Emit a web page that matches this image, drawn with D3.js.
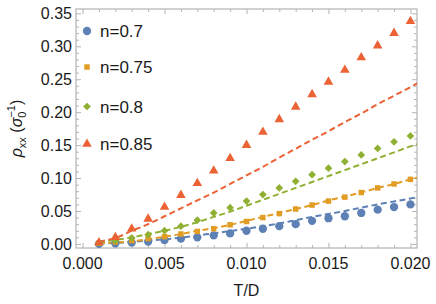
<!DOCTYPE html>
<html>
<head>
<meta charset="utf-8">
<script src="https://cdn.jsdelivr.net/npm/d3@7"></script>
<style>
    body { margin: 0; background: #fff; }
    text { font-family: "Liberation Sans", Arial, sans-serif; fill: #1a1a1a; }
</style>
</head>
<body>
<svg id="chart" width="436" height="304"></svg>
<script>
(function () {
    'use strict';

    // temperature grid of the symbols
    var tPoints = [0.001, 0.002, 0.003, 0.004, 0.005, 0.006, 0.007, 0.008, 0.009, 0.010,
        0.011, 0.012, 0.013, 0.014, 0.015, 0.016, 0.017, 0.018, 0.019, 0.020];

    // symbols (numerics)
    var rhoN070 = [0.000, 0.001, 0.002, 0.0035, 0.006, 0.008, 0.010, 0.013, 0.016, 0.020,
        0.023, 0.027, 0.030, 0.035, 0.039, 0.042, 0.047, 0.052, 0.056, 0.060];
    var rhoN075 = [0.001, 0.003, 0.005, 0.008, 0.011, 0.015, 0.019, 0.023, 0.029, 0.034,
        0.040, 0.046, 0.053, 0.059, 0.065, 0.071, 0.078, 0.085, 0.091, 0.098];
    var rhoN080 = [0.002, 0.005, 0.009, 0.014, 0.020, 0.027, 0.036, 0.047, 0.055, 0.065,
        0.075, 0.085, 0.095, 0.105, 0.115, 0.125, 0.135, 0.145, 0.155, 0.164];
    var rhoN085 = [0.002, 0.010, 0.023, 0.038, 0.056, 0.074, 0.092, 0.111, 0.130, 0.150,
        0.170, 0.189, 0.208, 0.227, 0.246, 0.264, 0.283, 0.301, 0.320, 0.338];

    // dashed curves
    var tLine = [0.001, 0.002, 0.003, 0.004, 0.005, 0.006, 0.007, 0.008, 0.009, 0.010,
        0.011, 0.012, 0.013, 0.014, 0.015, 0.016, 0.017, 0.018, 0.019, 0.020, 0.0205];
    var lineN070 = [0.0005, 0.0015, 0.003, 0.005, 0.007, 0.0095, 0.013, 0.016, 0.0195, 0.023,
        0.027, 0.031, 0.036, 0.041, 0.0455, 0.050, 0.055, 0.060, 0.0645, 0.069, 0.0715];
    var lineN075 = [0.001, 0.002, 0.004, 0.007, 0.011, 0.015, 0.020, 0.024, 0.029, 0.035,
        0.041, 0.047, 0.053, 0.059, 0.066, 0.072, 0.078, 0.085, 0.091, 0.098, 0.101];
    var lineN080 = [0.003, 0.006, 0.010, 0.015, 0.020, 0.026, 0.033, 0.041, 0.049, 0.058,
        0.067, 0.076, 0.085, 0.094, 0.103, 0.112, 0.121, 0.130, 0.139, 0.148, 0.152];
    var lineN085 = [0.004, 0.009, 0.020, 0.030, 0.042, 0.054, 0.066, 0.078, 0.091, 0.104,
        0.117, 0.131, 0.1445, 0.158, 0.171, 0.185, 0.198, 0.212, 0.225, 0.238, 0.245];

    var seriesNames = ['n=0.7', 'n=0.75', 'n=0.8', 'n=0.85'];
    var seriesColors = ['#5e81b5', '#e19c24', '#8fb032', '#eb6235'];
    var seriesShapes = [d3.symbolCircle, d3.symbolSquare, d3.symbolSquare, d3.symbolTriangle];
    var symbolSizes = [54, 30, 30, 40];
    var symbolTurn = [0, 0, 45, 0];   // diamond = square turned 45deg

    var xTicks = [0.000, 0.005, 0.010, 0.015, 0.020];
    var yTicks = [0.00, 0.05, 0.10, 0.15, 0.20, 0.25, 0.30, 0.35];

    var points = [rhoN070, rhoN075, rhoN080, rhoN085];
    var curves = [lineN070, lineN075, lineN080, lineN085];

    var left = 76, right = 417, top = 9, bottom = 248;
    var frameColor = '#b4b4b4';

    var svg = d3.select('#chart');

    var x = d3.scaleLinear().domain([-0.0004, 0.0204]).range([left, right]);
    var y = d3.scaleLinear().domain([-0.0062, 0.3566]).range([bottom, top]);

    svg.append('defs').append('clipPath')
        .attr('id', 'plot-clip')
        .append('rect')
        .attr('x', left).attr('y', top)
        .attr('width', right - left).attr('height', bottom - top);

    // frame with inward ticks on all sides
    var xMinor = d3.range(0, 21).map(function (i) { return i / 1000; });
    var yMinor = d3.range(0, 36).map(function (i) { return i / 100; });

    function tickLen(v, step) {
        return Math.abs(Math.round(v / step) * step - v) < 1e-9 ? 5 : 3;
    }

    var frame = svg.append('g').attr('class', 'frame');

    frame.append('g').attr('transform', 'translate(0,' + bottom + ')')
        .call(d3.axisTop(x).tickValues(xMinor).tickFormat('').tickSizeOuter(0))
        .call(function (g) {
            g.select('.domain').remove();
            g.selectAll('line').attr('y2', function (d) { return -tickLen(d, 0.005); });
        });
    frame.append('g').attr('transform', 'translate(0,' + top + ')')
        .call(d3.axisBottom(x).tickValues(xMinor).tickFormat('').tickSizeOuter(0))
        .call(function (g) {
            g.select('.domain').remove();
            g.selectAll('line').attr('y2', function (d) { return tickLen(d, 0.005); });
        });
    frame.append('g').attr('transform', 'translate(' + left + ',0)')
        .call(d3.axisRight(y).tickValues(yMinor).tickFormat('').tickSizeOuter(0))
        .call(function (g) {
            g.select('.domain').remove();
            g.selectAll('line').attr('x2', function (d) { return tickLen(d, 0.05); });
        });
    frame.append('g').attr('transform', 'translate(' + right + ',0)')
        .call(d3.axisLeft(y).tickValues(yMinor).tickFormat('').tickSizeOuter(0))
        .call(function (g) {
            g.select('.domain').remove();
            g.selectAll('line').attr('x2', function (d) { return -tickLen(d, 0.05); });
        });
    frame.selectAll('line').attr('stroke', frameColor).attr('stroke-width', 1);

    frame.append('rect')
        .attr('x', left).attr('y', top)
        .attr('width', right - left).attr('height', bottom - top)
        .attr('fill', 'none')
        .attr('stroke', frameColor)
        .attr('stroke-width', 1.2);

    // tick labels
    svg.append('g').selectAll('text')
        .data(xTicks)
        .enter().append('text')
        .attr('x', function (d) { return x(d); })
        .attr('y', bottom + 21)
        .attr('text-anchor', 'middle')
        .style('font-size', '16px')
        .text(function (d) { return d3.format('.3f')(d); });

    svg.append('g').selectAll('text')
        .data(yTicks)
        .enter().append('text')
        .attr('x', left - 4)
        .attr('y', function (d) { return y(d) + 6; })
        .attr('text-anchor', 'end')
        .style('font-size', '16px')
        .text(function (d) { return d3.format('.2f')(d); });

    // axis titles
    svg.append('text')
        .attr('x', (left + right) / 2)
        .attr('y', 296)
        .attr('text-anchor', 'middle')
        .style('font-size', '16px')
        .text('T/D');

    var yTitle = svg.append('text')
        .attr('transform', 'translate(22,' + ((top + bottom) / 2) + ') rotate(-90)')
        .attr('text-anchor', 'middle')
        .style('font-size', '16px');
    yTitle.append('tspan').style('font-style', 'italic').text('ρ');
    yTitle.append('tspan').attr('dy', 4).style('font-size', '11px').text('xx');
    yTitle.append('tspan').attr('dy', -4).text(' (');
    yTitle.append('tspan').style('font-style', 'italic').text('σ');
    yTitle.append('tspan').attr('dy', 4).style('font-size', '11px').text('0');
    yTitle.append('tspan').attr('dx', -6).attr('dy', -11).style('font-size', '11px').text('−1');
    yTitle.append('tspan').attr('dy', 7).text(')');

    // dashed curves
    var plot = svg.append('g').attr('class', 'plot').attr('clip-path', 'url(#plot-clip)');
    var line = d3.line()
        .x(function (d) { return x(d[0]); })
        .y(function (d) { return y(d[1]); })
        .curve(d3.curveMonotoneX);

    curves.forEach(function (c, i) {
        plot.append('path')
            .datum(tLine.map(function (t, j) { return [t, c[j]]; }))
            .attr('d', line)
            .attr('fill', 'none')
            .attr('stroke', seriesColors[i])
            .attr('stroke-width', 2)
            .attr('stroke-dasharray', '6,3.5');
    });

    // symbols
    points.forEach(function (p, i) {
        plot.selectAll('.pt' + i)
            .data(p)
            .enter().append('path')
            .attr('class', 'pt' + i)
            .attr('transform', function (d, j) {
                return 'translate(' + x(tPoints[j]) + ',' + y(d) + ') rotate(' + symbolTurn[i] + ')';
            })
            .attr('d', d3.symbol().type(seriesShapes[i]).size(symbolSizes[i]))
            .attr('fill', seriesColors[i]);
    });

    // legend
    var legendY = [31, 67, 106.5, 144];
    var legendItem = svg.append('g').attr('class', 'legend')
        .selectAll('.item')
        .data(seriesNames)
        .enter().append('g')
        .attr('class', 'item')
        .attr('transform', function (d, i) { return 'translate(87,' + legendY[i] + ')'; });

    legendItem.append('path')
        .attr('transform', function (d, i) { return 'rotate(' + symbolTurn[i] + ')'; })
        .attr('d', function (d, i) { return d3.symbol().type(seriesShapes[i]).size(symbolSizes[i])(); })
        .attr('fill', function (d, i) { return seriesColors[i]; });

    legendItem.append('text')
        .attr('x', 13)
        .attr('y', 6)
        .style('font-size', '17px')
        .text(function (d) { return d; });
})();
</script>
</body>
</html>
